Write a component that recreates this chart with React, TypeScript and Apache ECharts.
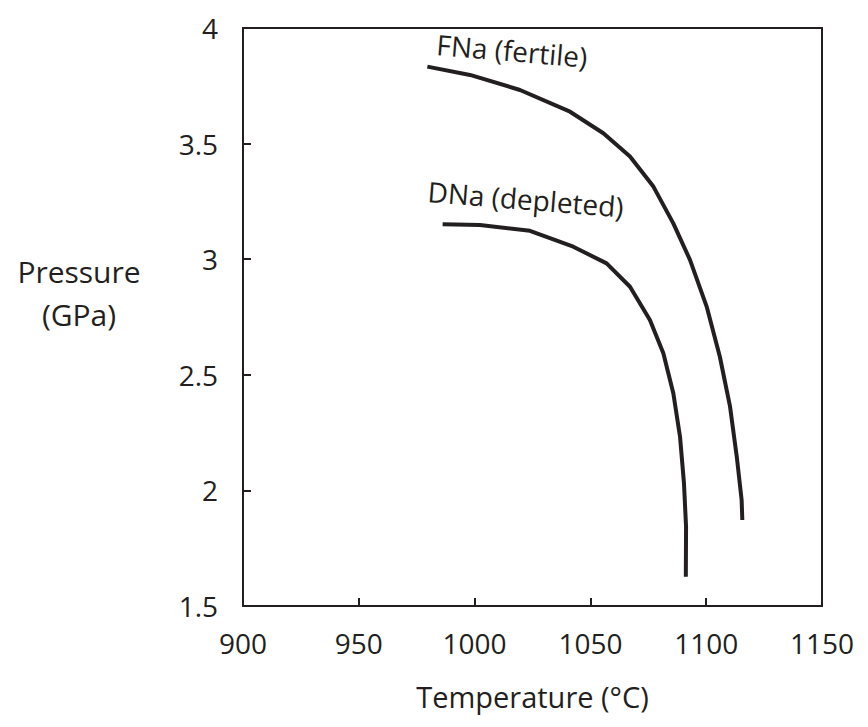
import React, { useEffect, useRef } from "react";
import * as echarts from "echarts";

// Solidus curves: temperature (°C) vs pressure (GPa)
const fertileT = [979.6, 998.0, 1019.6, 1041.2, 1055.6, 1067.1, 1077.2, 1085.8, 1093.0, 1100.2, 1105.9, 1110.3, 1113.2, 1115.3, 1115.6];
const fertileP = [3.833, 3.797, 3.732, 3.638, 3.545, 3.444, 3.314, 3.155, 2.997, 2.795, 2.578, 2.362, 2.146, 1.958, 1.872];

const depletedT = [986.2, 1002.3, 1023.9, 1042.6, 1057.0, 1067.1, 1075.7, 1081.5, 1085.8, 1088.7, 1090.4, 1091.3, 1091.2];
const depletedP = [3.151, 3.148, 3.123, 3.054, 2.982, 2.881, 2.737, 2.593, 2.42, 2.232, 2.031, 1.843, 1.627];

const xTicks = { min: 900, max: 1150, step: 50 };
const yTicks = { min: 1.5, max: 4, step: 0.5 };

const FONT = "'Open Sans', 'Noto Sans', sans-serif";
const INK = "#231f20";

const pairs = (xs: number[], ys: number[]) => xs.map((x, i) => [x, ys[i]]);

export default function App() {
  const ref = useRef<HTMLDivElement>(null);

  useEffect(() => {
    if (!ref.current) return;
    const chart = echarts.init(ref.current, undefined, { renderer: "svg" });
    chart.setOption({
      animation: false,
      backgroundColor: "#ffffff",
      grid: {
        left: 243,
        right: 46,
        top: 28,
        bottom: 121,
        show: true,
        borderColor: INK,
        borderWidth: 2,
      },
      xAxis: {
        type: "value",
        min: xTicks.min,
        max: xTicks.max,
        interval: xTicks.step,
        name: "Temperature (°C)",
        nameLocation: "middle",
        nameGap: 76,
        nameTextStyle: { fontFamily: FONT, fontSize: 29, color: INK },
        axisLine: { show: true, lineStyle: { color: INK, width: 2 } },
        axisTick: { show: true, inside: true, length: 8, lineStyle: { color: INK, width: 2 } },
        axisLabel: {
          fontFamily: FONT,
          fontSize: 28,
          color: INK,
          margin: 23,
          formatter: (v: number) => String(v),
        },
        splitLine: { show: false },
      },
      yAxis: {
        type: "value",
        min: yTicks.min,
        max: yTicks.max,
        interval: yTicks.step,
        axisLine: { show: true, lineStyle: { color: INK, width: 2 } },
        axisTick: { show: true, inside: true, length: 8, lineStyle: { color: INK, width: 2 } },
        axisLabel: {
          fontFamily: FONT,
          fontSize: 28,
          color: INK,
          margin: 25,
          formatter: (v: number) => String(v),
        },
        splitLine: { show: false },
      },
      graphic: [
        {
          type: "text",
          x: 79,
          y: 250,
          style: {
            text: "Pressure\n(GPa)",
            fontFamily: FONT,
            fontSize: 30,
            lineHeight: 43,
            fill: INK,
            align: "center",
          },
        },
        {
          type: "text",
          x: 438,
          y: 30,
          rotation: -0.085,
          style: { text: "FNa (fertile)", fontFamily: FONT, fontSize: 28, fill: INK },
        },
        {
          type: "text",
          x: 429,
          y: 177,
          rotation: -0.08,
          style: { text: "DNa (depleted)", fontFamily: FONT, fontSize: 28, fill: INK },
        },
      ],
      series: [
        {
          name: "FNa (fertile)",
          type: "line",
          data: pairs(fertileT, fertileP),
          smooth: false,
          showSymbol: false,
          lineStyle: { color: INK, width: 4, join: "round" },
        },
        {
          name: "DNa (depleted)",
          type: "line",
          data: pairs(depletedT, depletedP),
          smooth: false,
          showSymbol: false,
          lineStyle: { color: INK, width: 4, join: "round" },
        },
      ],
    });
    return () => chart.dispose();
  }, []);

  return <div ref={ref} style={{ width: 868, height: 727, position: "absolute", left: 0, top: 0 }} />;
}
